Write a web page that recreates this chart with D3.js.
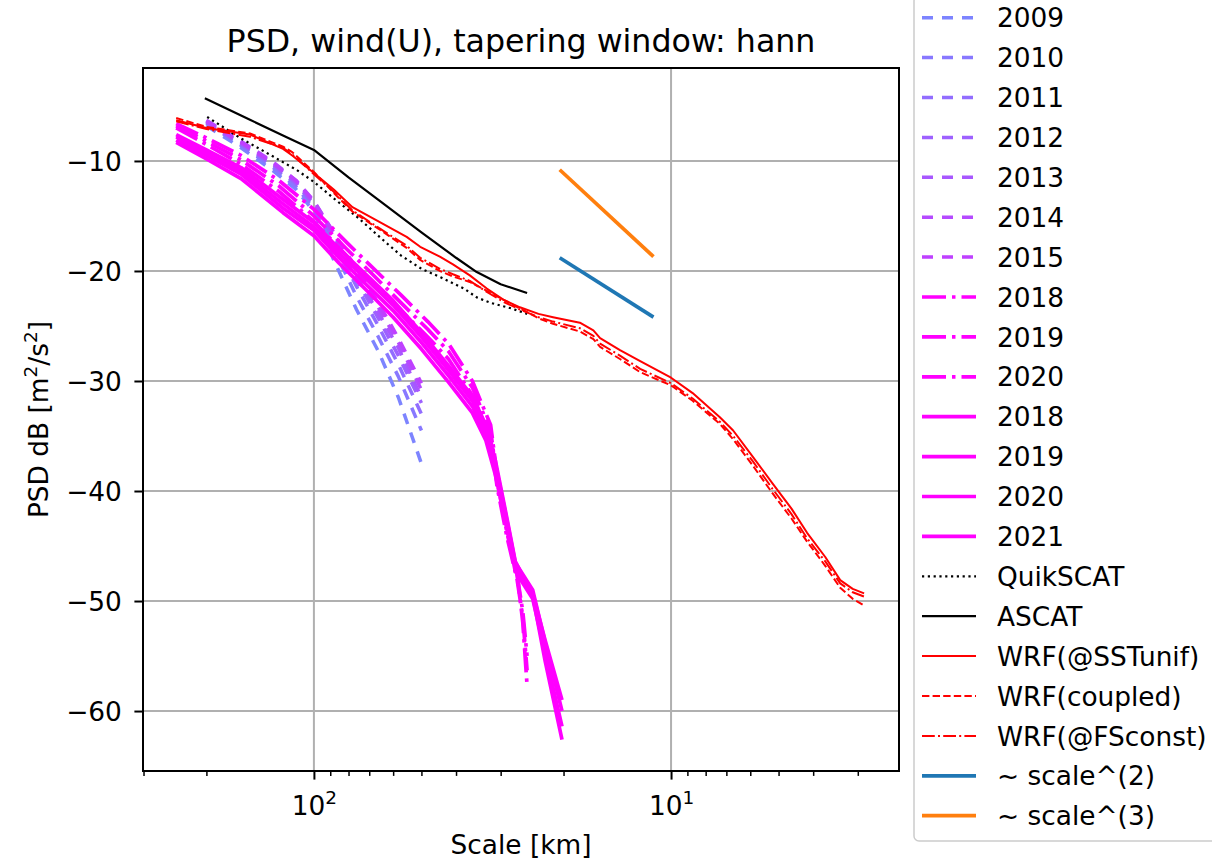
<!DOCTYPE html>
<html>
<head>
<meta charset="utf-8">
<script src="https://cdn.jsdelivr.net/npm/d3@7"></script>
<style>
  html, body { margin: 0; padding: 0; background: #fff; }
  svg { display: block; font-family: "DejaVu Sans", sans-serif; }
</style>
</head>
<body>
<svg id="chart" width="1212" height="862"></svg>
<script>
// ---------------------------------------------------------------
// Wind (U) power spectral density, Hann taper, scale in km vs dB
// ---------------------------------------------------------------

// Scatterometer-derived yearly spectra (dashed), 2009-2015
const dashedYears  = ["2009", "2010", "2011", "2012", "2013", "2014", "2015"];
const dashedColors = ["#7d84ff", "#8878ff", "#926dff", "#9e61ff", "#a857ff", "#b54aff", "#bf40ff"];
const dashedKm     = [200, 160, 130, 112, 100, 88, 76, 66, 58, 50];
const dashedPsd = [
  [-6.8, -8.8, -10.9, -12.6, -14.6, -19.0, -23.5, -27.3, -31.5, -37.5],
  [-6.6, -8.6, -10.6, -12.4, -14.3, -18.0, -22.3, -26.0, -29.6, -34.5],
  [-6.5, -8.5, -10.4, -12.1, -14.0, -17.4, -21.4, -25.0, -28.5, -33.0],
  [-6.4, -8.3, -10.2, -11.9, -13.8, -17.0, -20.8, -24.3, -27.7, -32.0],
  [-6.5, -8.4, -10.3, -12.0, -13.9, -16.9, -20.5, -23.8, -27.0, -31.5],
  [-6.3, -8.2, -10.1, -11.8, -13.6, -16.6, -20.1, -23.3, -26.5, -30.8],
  [-6.4, -8.3, -10.2, -11.8, -13.7, -16.5, -19.8, -22.9, -26.1, -30.2]
];

// Yearly spectra 2018-2020 (dash-dot)
const dashdotYears = ["2018", "2019", "2020"];
const dashdotKm    = [243, 200, 160, 125, 100, 81, 70, 57, 48, 42, 36, 32, 30.7, 28.8, 27.0, 26.0, 25.3];
const dashdotPsd = [
  [-6.6, -7.9, -9.5, -11.8, -14.4, -17.4, -19.4, -22.2, -24.6, -26.6, -30.0, -34.0, -38.5, -43.3, -47.3, -52.0, -57.7],
  [-6.8, -8.2, -9.9, -12.3, -15.0, -18.0, -20.0, -22.9, -25.3, -27.3, -30.6, -34.5, -39.0, -43.8, -47.6, -51.0, -55.0],
  [-7.0, -8.5, -10.3, -12.8, -15.5, -18.6, -20.7, -23.6, -26.0, -28.0, -31.3, -35.2, -39.6, -44.2, -48.0, -51.5, -56.3]
];

// Yearly spectra 2018-2021 (solid)
const solidYears = ["2018", "2019", "2020", "2021"];
const solidKm    = [243, 200, 160, 122, 100, 85, 70, 60, 50, 42, 36, 33, 31, 29, 27.3, 24.4, 22.5, 20.2];
const solidPsd = [
  [-8.1, -9.5, -11.2, -14.3, -16.3, -18.8, -21.5, -23.6, -26.5, -29.5, -32.3, -34.8, -38.0, -42.5, -46.8, -49.3, -53.6, -59.0],
  [-7.8, -9.2, -10.9, -13.9, -16.0, -18.4, -21.0, -23.1, -26.0, -29.0, -31.8, -34.3, -37.6, -42.2, -46.5, -49.0, -53.8, -60.0],
  [-8.3, -9.8, -11.6, -14.7, -16.8, -19.3, -22.0, -24.2, -27.1, -30.1, -32.9, -35.4, -38.6, -43.0, -47.3, -49.8, -54.8, -61.4],
  [-7.6, -9.0, -10.6, -13.5, -15.6, -18.0, -20.6, -22.7, -25.6, -28.6, -31.4, -34.0, -37.3, -42.0, -46.4, -49.5, -55.5, -62.6]
];

// Satellite references
const quikscatKm  = [199, 161, 130, 112, 100, 88, 75, 65, 57, 50, 44, 38, 35, 32, 28, 25.3];
const quikscatPsd = [-6.0, -7.9, -9.6, -10.8, -11.9, -13.4, -15.2, -17.0, -18.6, -19.8, -20.6, -21.6, -22.4, -22.9, -23.4, -23.9];
const ascatKm  = [202, 150, 120, 100, 80, 65, 50, 40, 35, 30, 25.3];
const ascatPsd = [-4.3, -6.3, -7.8, -9.0, -11.5, -13.7, -16.5, -18.8, -20.1, -21.2, -22.0];

// WRF model runs
const wrfKm = [243, 200, 151, 122, 115, 100, 88, 78, 65, 55, 50.4, 44.4, 40.8, 36.6, 32.8, 29.5, 26.5, 23.5,
               21.4, 18.0, 16.5, 15.8, 13.9, 12.2, 10.0, 8.7, 7.3, 6.7, 5.9, 5.2, 4.6, 4.16, 3.7, 3.36, 3.1, 2.88];
const wrfSSTunif = [-6.3, -7.0, -7.6, -8.9, -9.5, -11.1, -12.6, -14.2, -15.6, -16.9, -17.8, -18.7, -19.4, -20.4, -21.6, -22.6, -23.3, -23.9,
                    -24.2, -24.7, -25.4, -26.1, -27.2, -28.2, -29.7, -31.1, -33.3, -34.5, -36.9, -39.3, -41.6, -43.8, -46.0, -48.1, -48.9, -49.3];
const wrfCoupled = [-6.1, -6.9, -7.5, -8.7, -9.2, -11.0, -12.9, -14.6, -16.3, -17.9, -19.0, -20.0, -20.5, -21.0, -21.8, -22.6, -23.4, -24.3,
                    -24.8, -25.5, -26.2, -26.9, -28.0, -29.2, -30.4, -31.8, -33.9, -35.3, -37.7, -40.2, -42.5, -44.6, -46.8, -48.8, -49.8, -50.4];
const wrfFSconst = [-6.4, -7.1, -7.8, -8.8, -9.4, -11.2, -12.8, -14.5, -16.2, -17.7, -18.8, -19.8, -20.3, -20.9, -21.9, -22.8, -23.5, -24.2,
                    -24.6, -25.2, -25.9, -26.6, -27.7, -28.9, -30.2, -31.6, -33.7, -35.0, -37.3, -39.8, -42.1, -44.3, -46.4, -48.4, -49.2, -49.6];

// Power-law reference slopes
const refKm     = [20.5, 11.2];
const refScale2 = [-18.8, -24.2];
const refScale3 = [-10.8, -18.7];

// Axis ticks
const xMajorTicks = [100, 10];
const xMajorExp   = ["2", "1"];
const xMinorTicks = [300, 200, 90, 80, 70, 60, 50, 40, 30, 20, 9, 8, 7, 6, 5, 4, 3];
const yTicks      = [-10, -20, -30, -40, -50, -60];

// ---------------------------------------------------------------
const svg = d3.select("#chart");
const plot = { left: 143, right: 899, top: 68, bottom: 771 };
const fs = 26.4;

const x = d3.scaleLog().domain([301, 2.30]).range([plot.left, plot.right]);
const y = d3.scaleLinear().domain([-65.45, -1.55]).range([plot.bottom, plot.top]);

// Series specs built from the arrays above
const series = [];
dashedYears.forEach((yr, i) => series.push({
  label: yr, km: dashedKm, psd: dashedPsd[i], color: dashedColors[i], width: 3.5, dash: "11,9"
}));
dashdotYears.forEach((yr, i) => series.push({
  label: yr, km: dashdotKm, psd: dashdotPsd[i], color: "#ff00ff", width: 3.7, dash: "24,6,3.5,6"
}));
solidYears.forEach((yr, i) => series.push({
  label: yr, km: solidKm, psd: solidPsd[i], color: "#ff00ff", width: 3.7, dash: null
}));
series.push({ label: "QuikSCAT", km: quikscatKm, psd: quikscatPsd, color: "#000", width: 2.2, dash: "2.2,3.6" });
series.push({ label: "ASCAT", km: ascatKm, psd: ascatPsd, color: "#000", width: 2.2, dash: null });
series.push({ label: "WRF(@SSTunif)", km: wrfKm, psd: wrfSSTunif, color: "#ff0000", width: 2, dash: null });
series.push({ label: "WRF(coupled)", km: wrfKm, psd: wrfCoupled, color: "#ff0000", width: 2, dash: "7.4,3.2" });
series.push({ label: "WRF(@FSconst)", km: wrfKm, psd: wrfFSconst, color: "#ff0000", width: 2, dash: "12.8,3.2,2,3.2" });
series.push({ label: "~ scale^(2)", km: refKm, psd: refScale2, color: "#1f77b4", width: 3.7, dash: null });
series.push({ label: "~ scale^(3)", km: refKm, psd: refScale3, color: "#ff7f0e", width: 3.7, dash: null });

// Grid
const grid = svg.append("g").attr("class", "grid")
  .attr("stroke", "#b0b0b0").attr("stroke-width", 2);
grid.selectAll("line.gx").data(xMajorTicks).join("line")
  .attr("x1", d => x(d)).attr("x2", d => x(d))
  .attr("y1", plot.top).attr("y2", plot.bottom);
grid.selectAll("line.gy").data(yTicks).join("line")
  .attr("x1", plot.left).attr("x2", plot.right)
  .attr("y1", d => y(d)).attr("y2", d => y(d));

// Lines
svg.append("clipPath").attr("id", "plotclip").append("rect")
  .attr("x", plot.left).attr("y", plot.top)
  .attr("width", plot.right - plot.left).attr("height", plot.bottom - plot.top);

const line = d3.line().x(d => x(d[0])).y(d => y(d[1]));
svg.append("g").attr("clip-path", "url(#plotclip)")
  .selectAll("path").data(series).join("path")
  .attr("d", s => line(d3.zip(s.km, s.psd)))
  .attr("fill", "none")
  .attr("stroke", s => s.color)
  .attr("stroke-width", s => s.width)
  .attr("stroke-dasharray", s => s.dash)
  .attr("stroke-linejoin", "round");

// Axes
const xAxisMajor = svg.append("g").attr("transform", `translate(0,${plot.bottom})`)
  .call(d3.axisBottom(x).tickValues(xMajorTicks).tickSize(8.6).tickFormat(""));
const xAxisMinor = svg.append("g").attr("transform", `translate(0,${plot.bottom})`)
  .call(d3.axisBottom(x).tickValues(xMinorTicks).tickSize(4.9).tickFormat(""));
const yAxis = svg.append("g").attr("transform", `translate(${plot.left},0)`)
  .call(d3.axisLeft(y).tickValues(yTicks).tickSize(8.6).tickPadding(12.5)
    .tickFormat(d => String(d).replace("-", "\u2212")));

[xAxisMajor, xAxisMinor, yAxis].forEach(g => {
  g.select(".domain").remove();
  g.selectAll(".tick line").attr("stroke", "#000");
});
xAxisMajor.selectAll(".tick line").attr("stroke-width", 2);
xAxisMinor.selectAll(".tick line").attr("stroke-width", 1.5);
yAxis.selectAll(".tick text")
  .attr("font-size", fs).attr("font-family", "DejaVu Sans").attr("fill", "#000")
  .attr("dy", null).attr("y", 9.6);
yAxis.selectAll(".tick line").attr("stroke-width", 2);

// Power-of-ten x labels
xAxisMajor.selectAll(".tick").each(function (d, i) {
  const t = d3.select(this).append("text")
    .attr("y", 44).attr("text-anchor", "middle")
    .attr("font-size", fs).attr("font-family", "DejaVu Sans").attr("fill", "#000");
  t.append("tspan").text("10");
  t.append("tspan").attr("dy", -11).attr("font-size", fs * 0.7).text(xMajorExp[i]);
});

// Spines
svg.append("rect")
  .attr("x", plot.left).attr("y", plot.top)
  .attr("width", plot.right - plot.left).attr("height", plot.bottom - plot.top)
  .attr("fill", "none").attr("stroke", "#000").attr("stroke-width", 2);

// Title and axis labels
const cx = (plot.left + plot.right) / 2;
svg.append("text").attr("x", cx).attr("y", 52).attr("text-anchor", "middle")
  .attr("font-size", fs * 1.2).attr("fill", "#000")
  .text("PSD, wind(U), tapering window: hann");
svg.append("text").attr("x", cx).attr("y", 854).attr("text-anchor", "middle")
  .attr("font-size", fs).attr("fill", "#000").text("Scale [km]");

const ylab = svg.append("text")
  .attr("transform", `translate(48,${(plot.top + plot.bottom) / 2}) rotate(-90)`)
  .attr("text-anchor", "middle").attr("font-size", fs).attr("fill", "#000");
ylab.append("tspan").text("PSD dB [m");
ylab.append("tspan").attr("dy", -11).attr("font-size", fs * 0.7).text("2");
ylab.append("tspan").attr("dy", 11).text("/s");
ylab.append("tspan").attr("dy", -11).attr("font-size", fs * 0.7).text("2");
ylab.append("tspan").attr("dy", 11).text("]");

// Legend
const legend = svg.append("g").attr("class", "legend");
legend.append("rect")
  .attr("x", 914).attr("y", -4).attr("width", 330).attr("height", 845)
  .attr("rx", 5).attr("fill", "#fff").attr("fill-opacity", 0.8)
  .attr("stroke", "#cccccc").attr("stroke-width", 1.5);
const rowY = i => 17.7 + i * 39.9;
const rows = legend.selectAll("g.row").data(series).join("g").attr("class", "row")
  .attr("transform", (s, i) => `translate(0,${rowY(i)})`);
rows.append("line")
  .attr("x1", 922).attr("x2", 976).attr("y1", 0).attr("y2", 0)
  .attr("stroke", s => s.color).attr("stroke-width", s => s.width)
  .attr("stroke-dasharray", s => s.dash);
rows.append("text")
  .attr("x", 997).attr("y", 9.6).attr("font-size", fs).attr("fill", "#000")
  .text(s => s.label);
</script>
</body>
</html>
